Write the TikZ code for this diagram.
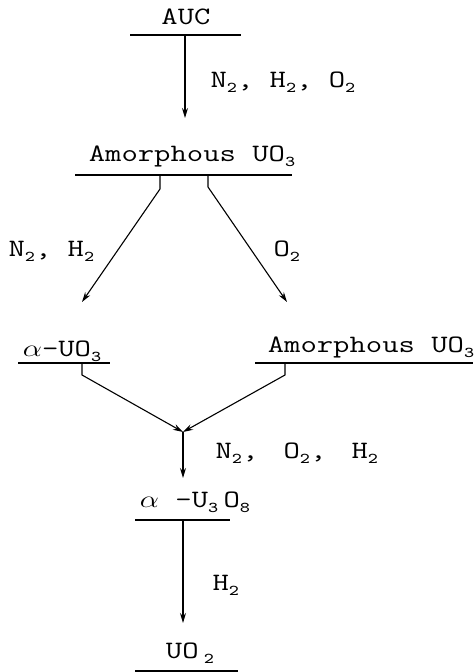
\documentclass[tikz,border=0pt]{standalone}
\usepackage{graphicx}
\usetikzlibrary{arrows.meta}
\newcommand{\chsub}[1]{\raisebox{-2.5pt}{\fontsize{7.5}{7.5}\selectfont #1}}
\newcommand{\chtxt}[1]{\scalebox{1.27}[1]{#1}}

\begin{document}
\begin{tikzpicture}[x=0.5pt, y=-0.5pt, line width=0.55pt,
  species/.style={anchor=base, inner sep=0pt, font=\fontsize{12.5}{14}\ttfamily},
  gas/.style={anchor=base west, inner sep=0pt, font=\fontsize{12.5}{14}\ttfamily},
  flow/.style={-{Stealth[length=5pt,width=3pt]}}]

\useasboundingbox (0,0) rectangle (474,672);

% AUC
\node[species] (auc) at (186,25) {\chtxt{AUC}};
\coordinate (aucL) at (130,35);
\coordinate (aucR) at (241,35);
\coordinate (aucOut) at (185,35);
\draw (aucL) -- (aucR);

% amorphous UO3 (top)
\node[species] (amtop) at (192,162) {\chtxt{Amorphous~UO\chsub{3}}};
\coordinate (amtopL) at (75,175);
\coordinate (amtopR) at (292,175);
\coordinate (amtopIn) at (185,118);
\coordinate (amtopOutA) at (160,175);
\coordinate (amtopOutB) at (208,175);
\draw (amtopL) -- (amtopR);

% alpha-UO3
\node[species] (alpha) at (62,357) {\chtxt{$\alpha$\textendash UO\chsub{3}}};
\coordinate (alphaL) at (18,363);
\coordinate (alphaR) at (110,363);
\coordinate (alphaIn) at (82,302);
\coordinate (alphaOut) at (82,363);
\draw (alphaL) -- (alphaR);

% amorphous UO3 (right)
\node[species] (amright) at (371,352) {\chtxt{Amorphous~UO\chsub{3}}};
\coordinate (amrightL) at (255,363);
\coordinate (amrightR) at (473,363);
\coordinate (amrightIn) at (287,302);
\coordinate (amrightOut) at (285,363);
\draw (amrightL) -- (amrightR);

% alpha-U3O8
\coordinate (merge) at (183,432);
\node[species] (u3o8) at (195,507) {\chtxt{$\alpha$~\textendash U\chsub{3}\,O\chsub{8}}};
\coordinate (u3o8L) at (135,520);
\coordinate (u3o8R) at (230,520);
\coordinate (u3o8In) at (183,478);
\coordinate (u3o8Out) at (183,520);
\draw (u3o8L) -- (u3o8R);

% UO2
\node[species] (uo2) at (190,658) {\chtxt{UO\,\chsub{2}}};
\coordinate (uo2L) at (135,671);
\coordinate (uo2R) at (238,671);
\coordinate (uo2In) at (183,623);
\draw (uo2L) -- (uo2R);

% reactions
\draw[flow] (aucOut) -- (amtopIn);
\draw[flow] (amtopOutA) -- ++(0,14) -- (alphaIn);
\draw[flow] (amtopOutB) -- ++(0,12) -- (amrightIn);
\draw[flow] (alphaOut) -- ++(0,12) -- (merge);
\draw[flow] (amrightOut) -- ++(0,12) -- (merge);
\draw[flow] (merge) -- (u3o8In);
\draw[flow] (u3o8Out) -- (uo2In);

% gases
\node[gas] (gasA) at (210,88) {\chtxt{N\chsub{2},~H\chsub{2},~O\chsub{2}}};
\node[gas] (gasB) at (8,257) {\chtxt{N\chsub{2},~H\chsub{2}}};
\node[gas] (gasC) at (273,257) {\chtxt{O\chsub{2}}};
\node[gas] (gasD) at (215,458) {\chtxt{N\chsub{2},~\;O\chsub{2},~\;H\chsub{2}}};
\node[gas] (gasE) at (212,590) {\chtxt{H\chsub{2}}};

\end{tikzpicture}
\end{document}
